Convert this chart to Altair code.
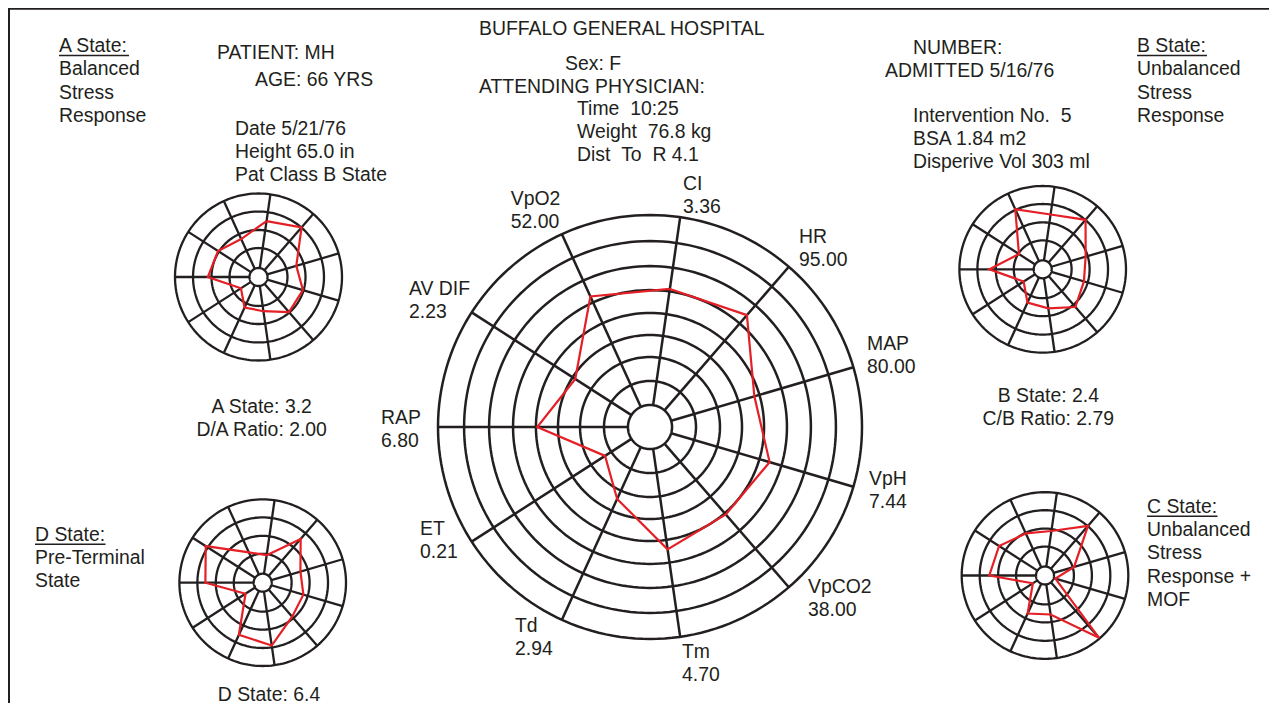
import math
import altair as alt
import pandas as pd

# ---------------- data ----------------
AXES = ["CI", "HR", "MAP", "VpH", "VpCO2", "Tm", "Td", "ET", "RAP", "AV DIF", "VpO2"]
AXIS_VALUES = ["3.36", "95.00", "80.00", "7.44", "38.00", "4.70", "2.94", "0.21", "6.80", "2.23", "52.00"]

# profile radius for every axis, as a fraction of the outer ring
PATIENT_PROFILE = [0.658, 0.698, 0.513, 0.588, 0.546, 0.583, 0.373, 0.252, 0.532, 0.419, 0.677]
A_PROFILE = [0.677, 0.787, 0.472, 0.554, 0.557, 0.414, 0.401, 0.250, 0.607, 0.576, 0.500]
B_PROFILE = [0.665, 0.786, 0.537, 0.516, 0.599, 0.473, 0.440, 0.272, 0.640, 0.339, 0.792]
C_PROFILE = [0.540, 0.788, 0.364, 0.130, 0.990, 0.473, 0.502, 0.173, 0.669, 0.655, 0.555]
D_PROFILE = [0.334, 0.696, 0.472, 0.509, 0.540, 0.762, 0.688, 0.245, 0.688, 0.813, 0.400]

MAIN_RINGS = [0.104, 0.217, 0.330, 0.434, 0.538, 0.646, 0.759, 0.877, 1.0]
SMALL_RINGS = [0.108, 0.347, 0.563, 0.784, 1.0]

NB = "\u00a0"
HEADER_LEFT = ["PATIENT: MH", "AGE: 66 YRS", "Date 5/21/76", "Height 65.0 in", "Pat Class B State"]
HEADER_MID = ["BUFFALO GENERAL HOSPITAL", "Sex: F", "ATTENDING PHYSICIAN:", f"Time {NB}10:25",
              f"Weight {NB}76.8 kg", f"Dist {NB}To {NB}R 4.1"]
HEADER_RIGHT = ["NUMBER:", "ADMITTED 5/16/76", f"Intervention No. {NB}5", "BSA 1.84 m2",
                "Disperive Vol 303 ml"]
STATE_A = ["A State:", "Balanced", "Stress", "Response"]
STATE_B = ["B State:", "Unbalanced", "Stress", "Response"]
STATE_C = ["C State:", "Unbalanced", "Stress", "Response +", "MOF"]
STATE_D = ["D State:", "Pre-Terminal", "State"]
SCORES_A = ["A State: 3.2", "D/A Ratio: 2.00"]
SCORES_B = ["B State: 2.4", "C/B Ratio: 2.79"]
SCORES_D = ["D State: 6.4"]

# ---------------- layout ----------------
W, H = 1261, 695
INK = "#231f20"
RED = "#e41f26"
FONT = "Liberation Sans"
FS = 19.4

RADARS = [
    # (profile, cx, cy, R, rings, grid width)
    (PATIENT_PROFILE, 650.0, 427.0, 212.0, MAIN_RINGS, 2.5),
    (A_PROFILE, 258.5, 277.0, 83.5, SMALL_RINGS, 2.3),
    (B_PROFILE, 1042.7, 269.3, 83.3, SMALL_RINGS, 2.3),
    (C_PROFILE, 1045.0, 575.5, 83.3, SMALL_RINGS, 2.3),
    (D_PROFILE, 262.7, 582.7, 83.3, SMALL_RINGS, 2.3),
]

n = len(AXES)
step = 360.0 / n
angles = [math.radians(180.0 + 8 * step - i * step) for i in range(n)]

grid_rows, poly_rows = [], []
for k, (prof, cx, cy, R, rings, sw) in enumerate(RADARS):
    for j, rr in enumerate(rings):
        for a in range(0, 361, 2):
            t = math.radians(a)
            grid_rows.append(dict(gid=f"r{k}_{j}", ord=a, sw=sw,
                                  x=cx + rr * R * math.cos(t), y=cy - rr * R * math.sin(t)))
    for i, t in enumerate(angles):
        for o, rr in enumerate([rings[0], 1.0]):
            grid_rows.append(dict(gid=f"s{k}_{i}", ord=o, sw=sw,
                                  x=cx + rr * R * math.cos(t), y=cy - rr * R * math.sin(t)))
    for i in range(n + 1):
        ii = i % n
        rr = prof[ii]
        poly_rows.append(dict(pid=f"p{k}", ord=i, axis=AXES[ii],
                              x=cx + rr * R * math.cos(angles[ii]),
                              y=cy - rr * R * math.sin(angles[ii])))

grid_df = pd.DataFrame(grid_rows)
poly_df = pd.DataFrame(poly_rows)

# text positions (left x, baseline y)
LH = 23.3
left_texts = []


def block(lines, x, y0):
    for i, s in enumerate(lines):
        left_texts.append(dict(text=s, x=x, y=y0 + i * LH))


for s, x, y in zip(HEADER_LEFT, [217, 255, 235, 235, 235], [59, 86, 135, 158, 181]):
    left_texts.append(dict(text=s, x=x, y=y))
for s, x, y in zip(HEADER_MID, [479, 565, 479, 577, 577, 577], [35, 70, 92.7, 115, 138, 161]):
    left_texts.append(dict(text=s, x=x, y=y))
for s, x, y in zip(HEADER_RIGHT, [913, 885, 913, 913, 913], [54, 77, 122, 145, 168]):
    left_texts.append(dict(text=s, x=x, y=y))
block(STATE_A, 59, 52)
block(STATE_B, 1137, 52)
block(STATE_C, 1147, 512.7)
block(STATE_D, 35, 540.7)

LABEL_POS = [(683, 190), (799, 243), (867, 350), (869, 485), (808, 593), (682, 658),
             (515, 632), (420, 535), (381, 424), (409, 295), (510.7, 205)]
for name, val, (x, y) in zip(AXES, AXIS_VALUES, LABEL_POS):
    left_texts.append(dict(text=name, x=x, y=y))
    left_texts.append(dict(text=val, x=x, y=y + 23))

left_df = pd.DataFrame(left_texts)

center_texts = []
for lines, x, y0 in [(SCORES_A, 261.7, 413), (SCORES_B, 1048.3, 401.7), (SCORES_D, 269, 700.5)]:
    for i, s in enumerate(lines):
        center_texts.append(dict(text=s, x=x, y=y0 + i * LH))
center_df = pd.DataFrame(center_texts)

# underlines under the state headings
under_df = pd.DataFrame([
    dict(x=59, x2=129, y=55.5),
    dict(x=1137, x2=1207, y=55.5),
    dict(x=1147, x2=1217.5, y=516.2),
    dict(x=35, x2=105.5, y=544.2),
])

frame_v = pd.DataFrame([dict(x=9, y=8, y2=703), dict(x=1271, y=8, y2=703)])
frame_h = pd.DataFrame([dict(x=9, x2=1271, y=8.8)])

xs = alt.Scale(domain=[8, 8 + W], nice=False, zero=False)
ys = alt.Scale(domain=[8, 8 + H], nice=False, zero=False, reverse=True)
X = lambda f="x": alt.X(f"{f}:Q", scale=xs, axis=None)
Y = lambda f="y": alt.Y(f"{f}:Q", scale=ys, axis=None)

grid = alt.Chart(grid_df).mark_line(color=INK, strokeCap="butt").encode(
    x=X(), y=Y(), detail="gid:N", order="ord:Q",
    strokeWidth=alt.StrokeWidth("sw:Q", scale=None))

poly = alt.Chart(poly_df).mark_line(color=RED, strokeWidth=2.2, strokeJoin="miter").encode(
    x=X(), y=Y(), detail="pid:N", order="ord:Q")

tleft = alt.Chart(left_df).mark_text(align="left", baseline="alphabetic", font=FONT,
                                     fontSize=FS, color=INK).encode(x=X(), y=Y(), text="text:N")
tcenter = alt.Chart(center_df).mark_text(align="center", baseline="alphabetic", font=FONT,
                                         fontSize=FS, color=INK).encode(x=X(), y=Y(), text="text:N")

under = alt.Chart(under_df).mark_rule(color=INK, strokeWidth=1.4).encode(
    x=X(), x2="x2:Q", y=Y())

fv = alt.Chart(frame_v).mark_rule(color=INK, strokeWidth=2).encode(x=X(), y=Y(), y2="y2:Q")
fh = alt.Chart(frame_h).mark_rule(color=INK, strokeWidth=2).encode(x=X(), x2="x2:Q", y=Y())

chart = alt.layer(grid, poly, tleft, tcenter, under, fv, fh).properties(
    width=W, height=H, padding=0, autosize=alt.AutoSizeParams(type="none")
).configure_view(stroke=None).configure(background="white")

chart.save("out.html", embed_options={"renderer": "svg", "actions": False})
